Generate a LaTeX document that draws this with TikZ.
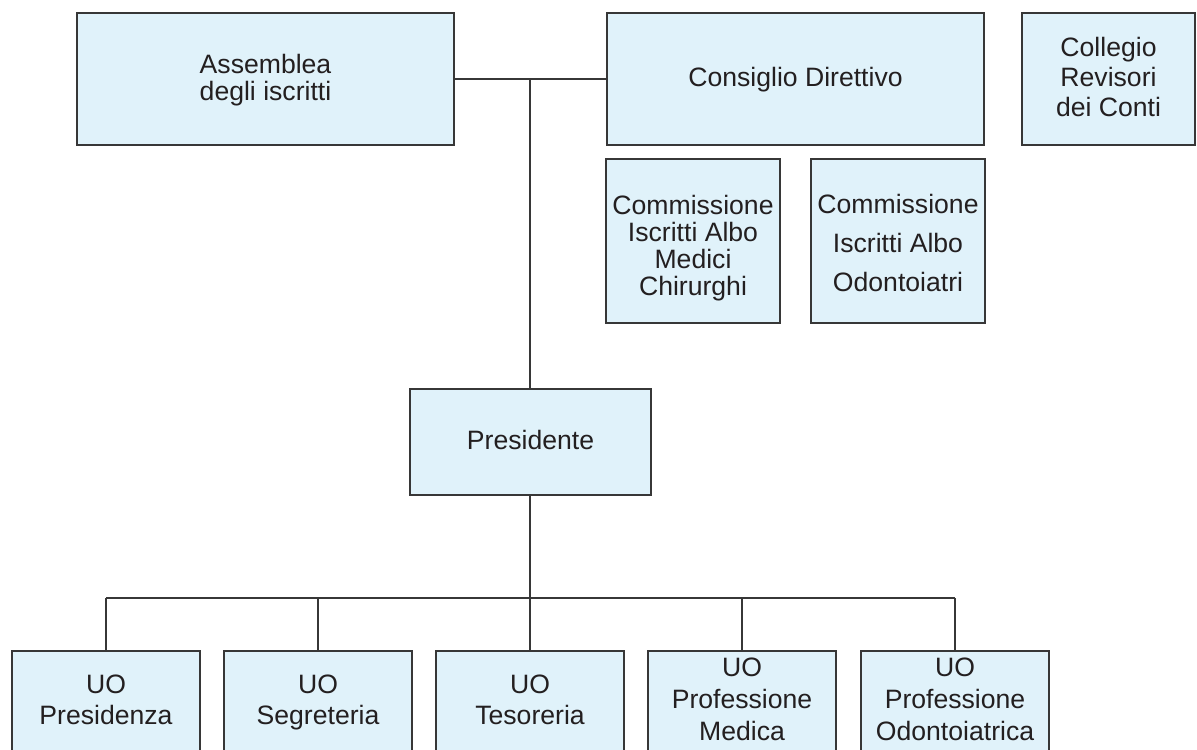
\documentclass[tikz,border=0pt]{standalone}
\usepackage{fontspec}
\setmainfont{Liberation Sans}
\definecolor{boxfill}{RGB}{224,242,250}
\definecolor{linec}{RGB}{55,55,55}
\definecolor{textc}{RGB}{35,31,32}
\tikzset{
  orgbox/.style={draw=linec, fill=boxfill, line width=1pt, rectangle, inner sep=0pt},
  topbox/.style={orgbox, minimum height=66pt},
  commbox/.style={orgbox, minimum width=87pt, minimum height=82pt},
  uobox/.style={orgbox, minimum width=94pt, minimum height=51pt},
  boxtext/.style={inner sep=0pt, align=center, text=textc, yshift=-1.2pt,
    font=\fontsize{13.3}{13.5}\selectfont,
    execute at begin node=\strut, execute at end node=\strut},
  commtext/.style={boxtext, yshift=-2.8pt},
  uotext/.style={boxtext, font=\fontsize{13.3}{15.5}\selectfont},
  uotextc/.style={boxtext, font=\fontsize{13.3}{16}\selectfont},
  conn/.style={draw=linec, line width=0.9pt}
}
\begin{document}
\begin{tikzpicture}[x=0.5pt,y=-0.5pt]
\useasboundingbox (0,0) rectangle (1197,749);
\clip (0,0) rectangle (1197,749);

% boxes
\node[topbox, minimum width=188.5pt] (ass) at (265.5,79) {};
\node[topbox, minimum width=188.5pt] (cons) at (795.5,79) {};
\node[topbox, minimum width=86.5pt] (coll) at (1108.5,79) {};
\node[commbox] (comm1) at (693,241) {};
\node[commbox] (comm2) at (898,241) {};
\node[orgbox, minimum width=120.5pt, minimum height=53pt] (pres) at (530.5,442) {};
\node[uobox] (uo1) at (106,702) {};
\node[uobox] (uo2) at (318,702) {};
\node[uobox] (uo3) at (530,702) {};
\node[uobox] (uo4) at (742,702) {};
\node[uobox] (uo5) at (955,702) {};

% texts
\node[boxtext] (assT) at (ass.center) {Assemblea\\degli iscritti};
\node[boxtext] (consT) at (cons.center) {Consiglio Direttivo};
\node[boxtext, font=\fontsize{13.3}{15}\selectfont] (collT) at (coll.center) {Collegio\\Revisori\\dei Conti};
\node[commtext] (comm1T) at (comm1.center) {Commissione\\Iscritti Albo\\Medici\\Chirurghi};
\node[commtext, font=\fontsize{13.3}{19.5}\selectfont] (comm2T) at (comm2.center) {Commissione\\Iscritti Albo\\Odontoiatri};
\node[boxtext] (presT) at (pres.center) {Presidente};
\node[uotext] (uo1T) at (uo1.center) {UO\\Presidenza};
\node[uotext] (uo2T) at (uo2.center) {UO\\Segreteria};
\node[uotext] (uo3T) at (uo3.center) {UO\\Tesoreria};
\node[uotextc] (uo4T) at (uo4.center) {UO\\Professione\\Medica};
\node[uotextc] (uo5T) at (uo5.center) {UO\\Professione\\Odontoiatrica};

% connectors
\coordinate (j) at (530,79);
\coordinate (bus) at (530,598);
\coordinate (busl) at (106,598);
\coordinate (busr) at (955,598);

\draw[conn] (ass.east) -- (cons.west);
\draw[conn] (j) -- (j |- pres.north);
\draw[conn] (j |- pres.south) -- (bus);
\draw[conn] (busl) -- (busr);
\foreach \n in {uo1,uo2,uo3,uo4,uo5} {
  \draw[conn] (\n.north |- bus) -- (\n.north);
}
\end{tikzpicture}
\end{document}
